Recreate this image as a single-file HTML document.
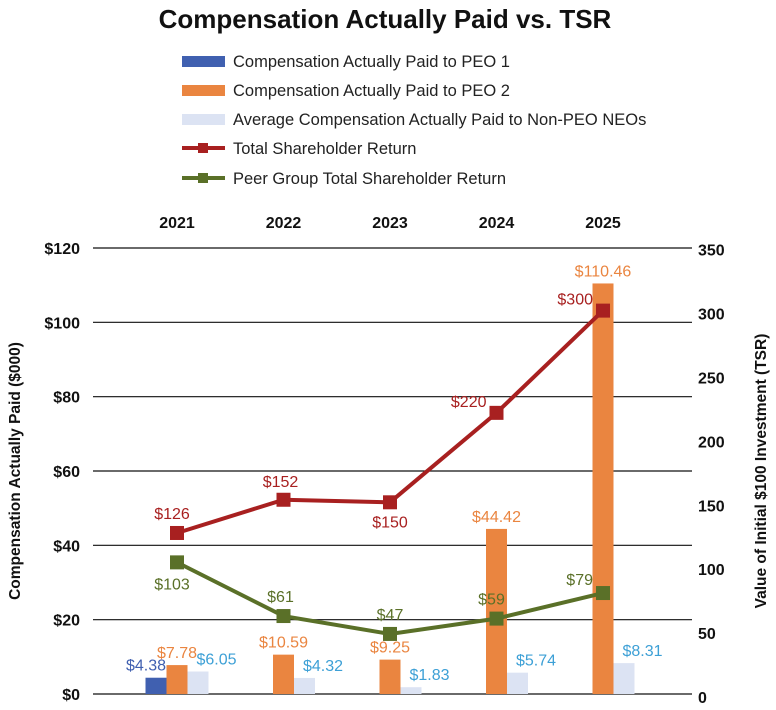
<!DOCTYPE html>
<html><head><meta charset="utf-8"><style>
body{margin:0;background:#fff;}
svg{display:block;font-family:"Liberation Sans",sans-serif;}
</style></head><body>
<svg id="chart" width="776" height="710" viewBox="0 0 776 710">
<text x="385" y="28" text-anchor="middle" font-size="26" font-weight="bold" fill="#111">Compensation Actually Paid vs. TSR</text>
<g font-size="16.5" fill="#222">
<rect x="182" y="56" width="43" height="11" fill="#4060b0"/>
<text x="233" y="67">Compensation Actually Paid to PEO 1</text>
<rect x="182" y="85" width="43" height="11" fill="#ea8540"/>
<text x="233" y="96">Compensation Actually Paid to PEO 2</text>
<rect x="182" y="114" width="43" height="11" fill="#dce3f3"/>
<text x="233" y="125">Average Compensation Actually Paid to Non-PEO NEOs</text>
<line x1="182" y1="148" x2="225" y2="148" stroke="#a82020" stroke-width="4"/>
<rect x="198" y="143" width="10" height="10" fill="#a82020"/>
<text x="233" y="154">Total Shareholder Return</text>
<line x1="182" y1="178" x2="225" y2="178" stroke="#5a7028" stroke-width="4"/>
<rect x="198" y="173" width="10" height="10" fill="#5a7028"/>
<text x="233" y="184">Peer Group Total Shareholder Return</text>
</g>
<text transform="translate(20,471) rotate(-90)" text-anchor="middle" font-size="15.5" font-weight="bold" fill="#111">Compensation Actually Paid ($000)</text>
<text transform="translate(766,471) rotate(-90)" text-anchor="middle" font-size="15.5" font-weight="bold" fill="#111">Value of Initial $100 Investment (TSR)</text>
<g id="grid"></g><g id="bars"></g><g id="lines"></g><g id="labels"></g>
</svg>
<script>
const years=["2021","2022","2023","2024","2025"];
const peo1=[4.38,null,null,null,null];
const peo2=[7.78,10.59,9.25,44.42,110.46];
const neo=[6.05,4.32,1.83,5.74,8.31];
const tsr=[126,152,150,220,300];
const peer=[103,61,47,59,79];
const leftTicks=[0,20,40,60,80,100,120];
const rightTicks=[0,50,100,150,200,250,300,350];

const NS="http://www.w3.org/2000/svg";
const X0=177,DX=106.5,Y0=694,TOP=248;
const xC=i=>X0+i*DX;
const yL=v=>Y0-v*(Y0-TOP)/120;
const yR=v=>Y0-v*(Y0-TOP)/349;
function mk(parent,tag,attrs,txt){const e=document.createElementNS(NS,tag);for(const k in attrs)e.setAttribute(k,attrs[k]);if(txt!==undefined)e.textContent=txt;document.getElementById(parent).appendChild(e);return e;}

leftTicks.forEach(t=>{
  let l=mk("grid","line",{x1:93,x2:692,y1:yL(t),y2:yL(t),stroke:"#111","stroke-width":1.2});
  
  
  let tx=mk("grid","text",{x:80,y:yL(t)+6,"text-anchor":"end","font-size":16,"font-weight":"bold",fill:"#111"},"$"+t);
  
  
});
rightTicks.forEach(t=>{
  let tx=mk("grid","text",{x:698,y:yR(t)+9,"font-size":16,"font-weight":"bold",fill:"#111"},String(t));
  
  
});
years.forEach((y,i)=>{
  let tx=mk("grid","text",{x:xC(i),y:228,"text-anchor":"middle","font-size":16,"font-weight":"bold",fill:"#111"},y);
  
  
});
const BW=21;
const series=[[peo1,"#4060b0","#4060b0",-1],[peo2,"#ea8540","#ea8540",0],[neo,"#dce3f3","#3da0d6",1]];
series.forEach(([arr,fill,lc,off])=>{
  arr.forEach((v,i)=>{
    if(v==null)return;
    const x=xC(i)+off*BW-BW/2;
    let r=mk("bars","rect",{x:x,y:yL(v),width:BW,height:Y0-yL(v),fill:fill});
    
    
    let lx=off===-1?x+BW/2-10:(off===1?x+BW+8:x+BW/2);
    let t=mk("labels","text",{x:lx,y:yL(v)-7,"text-anchor":"middle","font-size":16,fill:lc},"$"+v.toFixed(2));
    
    
  });
});
function line(arr,color,name,pos){
  const pts=arr.map((v,i)=>xC(i)+","+yR(v)).join(" ");
  let p=mk("lines","polyline",{points:pts,fill:"none",stroke:color,"stroke-width":4});
  
  
  arr.forEach((v,i)=>{
    let m=mk("lines","rect",{x:xC(i)-7,y:yR(v)-7,width:14,height:14,fill:color});
    
    
    const [dx,dy,anc]=pos[i];
    let t=mk("labels","text",{x:xC(i)+dx,y:yR(v)+dy,"text-anchor":anc,"font-size":16,fill:color},"$"+v);
    
    
  });
}
line(tsr,"#a82020","tsr",[[-5,-14,"middle"],[-3,-13,"middle"],[0,25,"middle"],[-10,-6,"end"],[-10,-6,"end"]]);
line(peer,"#5a7028","peer",[[-5,27,"middle"],[-3,-14,"middle"],[0,-14,"middle"],[-5,-14,"middle"],[-10,-8,"end"]]);
</script>
</body></html>
